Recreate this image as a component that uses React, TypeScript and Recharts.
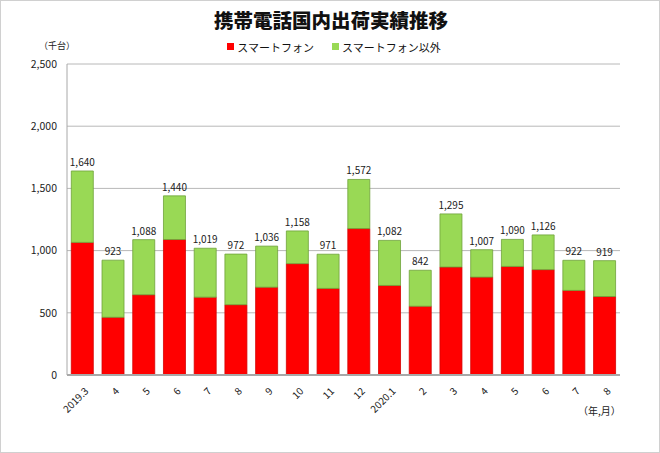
import { Bar, BarChart, CartesianGrid, LabelList, XAxis, YAxis } from "recharts";

const months = ["2019.3", "4", "5", "6", "7", "8", "9", "10", "11", "12", "2020.1", "2", "3", "4", "5", "6", "7", "8"];
const smartphone = [1066, 464, 645, 1089, 626, 565, 706, 895, 696, 1177, 720, 553, 868, 787, 873, 847, 680, 631];
const others = [574, 459, 443, 351, 393, 407, 330, 263, 275, 395, 362, 289, 427, 220, 217, 279, 242, 288];
const totals = [1640, 923, 1088, 1440, 1019, 972, 1036, 1158, 971, 1572, 1082, 842, 1295, 1007, 1090, 1126, 922, 919];
const yTicks = [0, 500, 1000, 1500, 2000, 2500];

const data = months.map((m, i) => ({
  month: m,
  smart: smartphone[i],
  other: others[i],
  total: totals[i],
}));

const FONT = "'Noto Sans CJK JP', 'Noto Sans', sans-serif";
const RED = "#ff0000";
const GREEN = "#99d955";

function MonthTick({ x, y, payload }: any) {
  return (
    <g transform={`translate(${x + 4},${y + 6})`}>
      <text transform="rotate(-45)" textAnchor="end" fontSize={10} fill="#222" fontFamily={FONT} dy={4}>
        {payload.value}
      </text>
    </g>
  );
}

function LegendItem({ color, label }: { color: string; label: string }) {
  return (
    <span style={{ display: "inline-flex", alignItems: "center", margin: "0 9px" }}>
      <span style={{ width: 7, height: 7, background: color, marginRight: 3 }} />
      {label}
    </span>
  );
}

export default function App() {
  return (
    <div
      style={{
        width: 660,
        height: 453,
        position: "relative",
        boxSizing: "border-box",
        border: "1px solid #d0d0d0",
        background: "#fff",
        fontFamily: FONT,
      }}
    >
      <style>{`body{margin:0}`}</style>
      <div
        style={{
          position: "absolute",
          top: 4,
          left: 0,
          width: 660,
          textAlign: "center",
          fontSize: 19.5,
          fontWeight: 900,
          color: "#111",
        }}
      >
        携帯電話国内出荷実績推移
      </div>
      <div
        style={{
          position: "absolute",
          top: 36,
          left: 0,
          width: 666,
          textAlign: "center",
          fontSize: 11,
          color: "#111",
        }}
      >
        <LegendItem color={RED} label="スマートフォン" />
        <LegendItem color={GREEN} label="スマートフォン以外" />
      </div>
      <div style={{ position: "absolute", top: 39, left: 38, fontSize: 9, color: "#222", lineHeight: "12px" }}>（千台）</div>
      <div style={{ position: "absolute", top: 402, left: 577, fontSize: 10, color: "#222" }}>（年,月）</div>
      <BarChart
        width={660}
        height={453}
        data={data}
        margin={{ top: 64, right: 40, left: 7, bottom: 28 }}
        barCategoryGap="14%"
        style={{ position: "absolute", top: -1, left: -1 }}
      >
        <CartesianGrid vertical={false} stroke="#b8b8b8" />
        <XAxis
          dataKey="month"
          interval={0}
          tick={<MonthTick />}
          tickLine={false}
          axisLine={{ stroke: "#a8a8a8", strokeWidth: 2 }}
          height={50}
        />
        <YAxis
          width={60}
          domain={[0, 2500]}
          ticks={yTicks}
          tickFormatter={(v: number) => v.toLocaleString("en-US")}
          tick={{ fontSize: 10.5, fill: "#222", fontFamily: FONT }}
          tickLine={false}
          tickSize={0}
          tickMargin={10}
          axisLine={{ stroke: "#a8a8a8" }}
        />
        <Bar dataKey="smart" name="スマートフォン" stackId="a" fill={RED} stroke="#d40000" strokeWidth={0.8} isAnimationActive={false} />
        <Bar dataKey="other" name="スマートフォン以外" stackId="a" fill={GREEN} stroke="#6fa23a" strokeWidth={0.8} isAnimationActive={false}>
          <LabelList
            dataKey="total"
            position="top"
            offset={5}
            formatter={(v: number) => v.toLocaleString("en-US")}
            style={{ fontSize: 10, fill: "#222", fontFamily: FONT }}
          />
        </Bar>
      </BarChart>
    </div>
  );
}
